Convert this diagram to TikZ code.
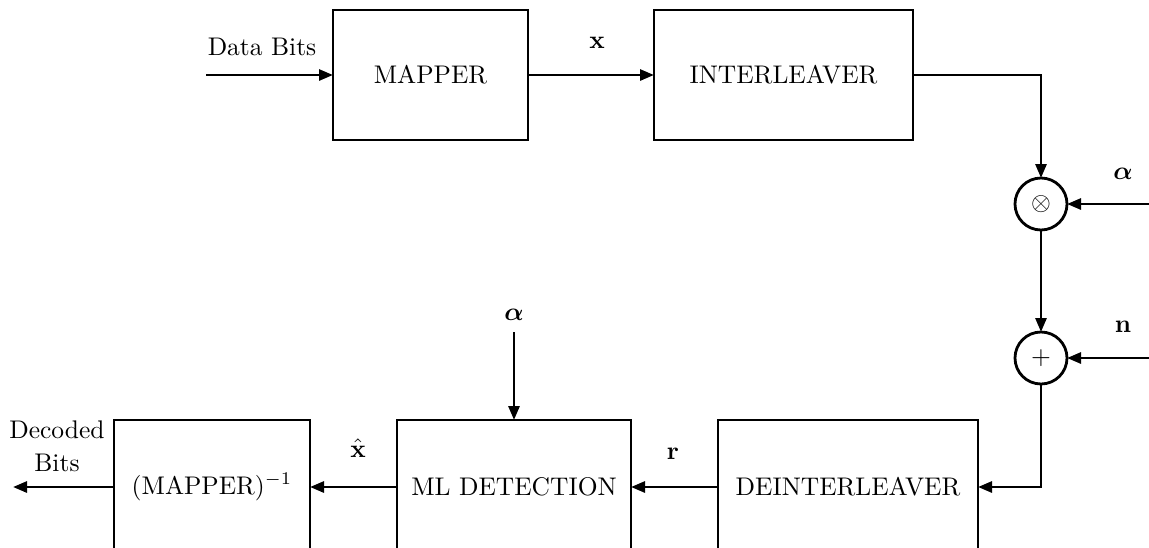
\documentclass[tikz,border=0pt]{standalone}
\usepackage{bm}
\usetikzlibrary{arrows.meta}
\begin{document}
\begin{tikzpicture}[x=1pt,y=-1pt,
  line width=2.8pt,
  txt/.style={scale=2.55,inner sep=0pt},
  blk/.style={draw,scale=2.55,inner sep=0pt,outer sep=0pt,line width=2.8pt},
  sumnode/.style={draw,circle,scale=2.55,inner sep=0pt,outer sep=0pt,minimum size=52pt/2.55,line width=2.8pt},
  arr/.style={-{Triangle[length=14pt,width=11pt]}}]
\useasboundingbox (0,0) rectangle (1149,547);
% upper row
\node[blk,minimum width=195pt/2.55,minimum height=130pt/2.55] (map) at (430.5,75) {MAPPER};
\node[blk,minimum width=259pt/2.55,minimum height=130pt/2.55] (int) at (783.5,75) {INTERLEAVER};
\node[sumnode] (mul) at (1041,204) {$\otimes$};
\node[sumnode] (add) at (1041,358) {$+$};
% lower row
\node[blk,minimum width=260pt/2.55,minimum height=134pt/2.55] (deint) at (848,487) {DEINTERLEAVER};
\node[blk,minimum width=234pt/2.55,minimum height=134pt/2.55] (ml) at (514,487) {ML DETECTION};
\node[blk,minimum width=196pt/2.55,minimum height=134pt/2.55] (minv) at (212,487) {(MAPPER)$^{-1}$};
% coordinates
\coordinate (in) at (206,75);
\coordinate (c1) at (1041,75);
\coordinate (ain) at (1149,204);
\coordinate (nin) at (1149,358);
\coordinate (c2) at (1041,487);
\coordinate (a2) at (514,332);
\coordinate (out) at (13,487);
% labels
\node[txt] (lbits) at (262,47) {Data Bits};
\node[txt] (lx) at (597,43) {$\mathbf{x}$};
\node[txt] (la1) at (1123,174) {$\bm{\alpha}$};
\node[txt] (ln) at (1123,327) {$\mathbf{n}$};
\node[txt] (la2) at (514,315) {$\bm{\alpha}$};
\node[txt] (lr) at (673,454) {$\mathbf{r}$};
\node[txt] (lxh) at (358,448) {$\hat{\mathbf{x}}$};
\node[txt,align=center] (ldec) at (57,446) {Decoded\\[1pt]Bits};
% connectors
\draw[arr] (in) -- (map.west);
\draw[arr] (map.east) -- (int.west);
\draw[arr] (int.east) -- (c1) -- (mul.north);
\draw[arr] (ain) -- (mul.east);
\draw[arr] (mul.south) -- (add.north);
\draw[arr] (nin) -- (add.east);
\draw[arr] (add.south) -- (c2) -- (deint.east);
\draw[arr] (deint.west) -- (ml.east);
\draw[arr] (a2) -- (ml.north);
\draw[arr] (ml.west) -- (minv.east);
\draw[arr] (minv.west) -- (out);
\end{tikzpicture}
\end{document}
